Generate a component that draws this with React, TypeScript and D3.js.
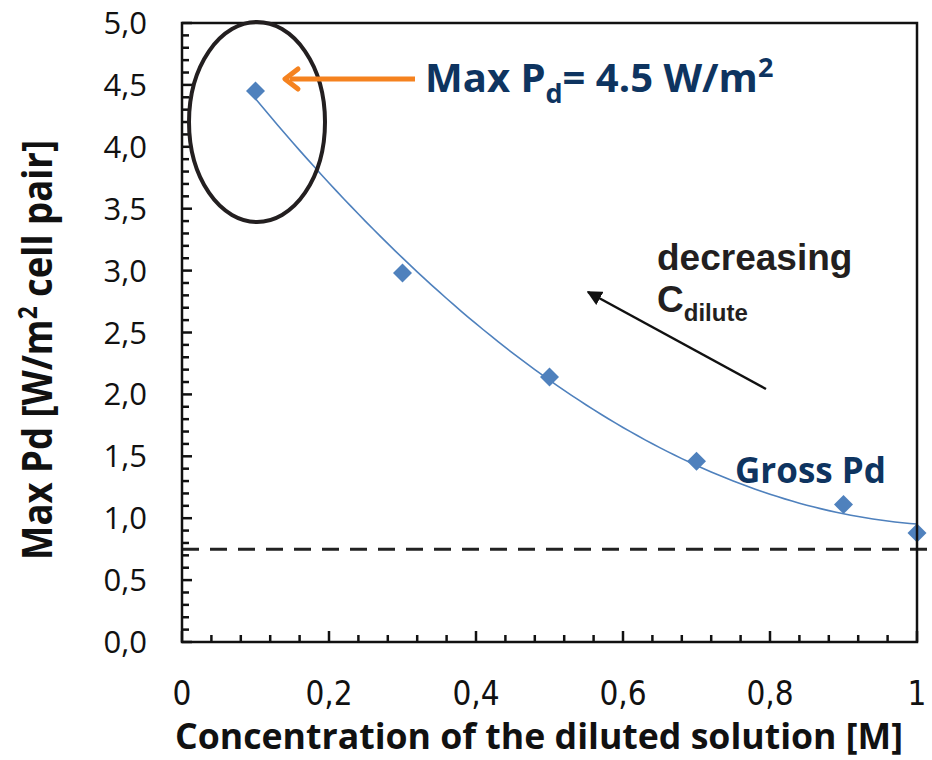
import React from 'react';
import * as d3 from 'd3';

const concentrations = [0.1, 0.3, 0.5, 0.7, 0.9, 1.0];
const grossPd = [4.45, 2.98, 2.14, 1.46, 1.11, 0.88];
const xTickValues = [0, 0.2, 0.4, 0.6, 0.8, 1];
const yTickValues = [0, 0.5, 1, 1.5, 2, 2.5, 3, 3.5, 4, 4.5, 5];
const referenceLevel = 0.75;

const W = 932;
const H = 760;
const margin = { top: 23, right: 15, bottom: 118, left: 182 };

const navy = '#0e3460';
const blue = '#4f81bd';

// 2nd order polynomial trendline (least squares), like the spreadsheet trendline
function quadFit(xs: number[], ys: number[]) {
  let s0 = 0, s1 = 0, s2 = 0, s3 = 0, s4 = 0, t0 = 0, t1 = 0, t2 = 0;
  xs.forEach((x, i) => {
    const y = ys[i];
    s0 += 1; s1 += x; s2 += x * x; s3 += x ** 3; s4 += x ** 4;
    t0 += y; t1 += x * y; t2 += x * x * y;
  });
  const m = [
    [s0, s1, s2, t0],
    [s1, s2, s3, t1],
    [s2, s3, s4, t2],
  ];
  for (let i = 0; i < 3; i++) {
    for (let k = i + 1; k < 3; k++) {
      const f = m[k][i] / m[i][i];
      for (let j = i; j < 4; j++) m[k][j] -= f * m[i][j];
    }
  }
  const c = [0, 0, 0];
  for (let i = 2; i >= 0; i--) {
    let s = m[i][3];
    for (let j = i + 1; j < 3; j++) s -= m[i][j] * c[j];
    c[i] = s / m[i][i];
  }
  return (x: number) => c[0] + c[1] * x + c[2] * x * x;
}

const App: React.FC = () => {
  const x = d3.scaleLinear().domain([0, 1]).range([margin.left, W - margin.right]);
  const y = d3.scaleLinear().domain([0, 5]).range([H - margin.bottom, margin.top]);
  const [x0, x1] = x.range();
  const [yb, yt] = y.range();

  const fit = quadFit(concentrations, grossPd);
  const curveX = d3.range(0.1, 1.0001, 0.01);
  const line = d3.line<number>().x(d => x(d)).y(d => y(fit(d))).curve(d3.curveMonotoneX);

  const xMinor = d3.range(0, 1.0001, 0.04);
  const yMinor = d3.range(0, 5.0001, 0.1);
  const fmt = (v: number, digits: number) => v.toFixed(digits).replace('.', ',');

  const diamond = d3.symbol().type(d3.symbolDiamond2).size(230)();

  return (
    <svg width={W} height={H} style={{ position: 'absolute', left: 0, top: 0 }}>
      <defs>
        <marker id="blackHead" viewBox="0 0 10 10" refX="9" refY="5" markerWidth="6" markerHeight="6" orient="auto">
          <path d="M0,0 L10,5 L0,10 z" fill="#111" />
        </marker>
      </defs>
      <rect width={W} height={H} fill="#fff" />

      {/* trendline */}
      <path d={line(curveX) || ''} fill="none" stroke={blue} strokeWidth={1.6} />

      {/* markers */}
      {concentrations.map((c, i) => (
        <path key={i} d={diamond || ''} transform={`translate(${x(c)},${y(grossPd[i])})`} fill={blue} />
      ))}

      {/* dashed reference line */}
      <line x1={x0} x2={W} y1={y(referenceLevel)} y2={y(referenceLevel)} stroke="#222" strokeWidth={3} strokeDasharray="17 11" />

      {/* frame */}
      <rect x={x0} y={yt} width={x1 - x0} height={yb - yt} fill="none" stroke="#111" strokeWidth={2.5} />

      {/* y ticks */}
      {yMinor.map((v, i) => (
        <line key={i} x1={x0} x2={x0 + (i % 5 === 0 ? 10 : 7)} y1={y(v)} y2={y(v)} stroke="#111" strokeWidth={2.5} />
      ))}
      {/* x ticks */}
      {xMinor.map((v, i) => (
        <line key={i} x1={x(v)} x2={x(v)} y1={yb} y2={yb - (i % 5 === 0 ? 11 : 7)} stroke="#111" strokeWidth={2.5} />
      ))}

      {yTickValues.map(v => (
        <text key={v} x={147} y={y(v) + 11} textAnchor="end" fontFamily="'Open Sans', sans-serif" fontSize={31} fill="#111">
          {fmt(v, 1)}
        </text>
      ))}
      {xTickValues.map(v => (
        <text key={v} x={x(v)} y={705} textAnchor="middle" fontFamily="'Liberation Sans Narrow', 'DejaVu Sans Condensed', sans-serif" fontSize={33} fill="#111">
          {v === 0 || v === 1 ? String(v) : fmt(v, 1)}
        </text>
      ))}

      {/* axis titles */}
      <text x={539} y={749} textAnchor="middle" fontFamily="'Open Sans', sans-serif" fontWeight="bold" fontSize={35} fill="#111" textLength={728} lengthAdjust="spacingAndGlyphs">
        Concentration of the diluted solution [M]
      </text>
      <text transform="translate(52,350) rotate(-90)" textAnchor="middle" fontFamily="'Open Sans', sans-serif" fontWeight="bold" fontSize={42} fill="#111" textLength={420} lengthAdjust="spacingAndGlyphs">
        Max Pd [W/m<tspan dy={-15} fontSize={26}>2</tspan><tspan dy={15}> cell pair]</tspan>
      </text>

      {/* annotations */}
      <ellipse cx={257} cy={122} rx={68} ry={100} fill="none" stroke="#231f20" strokeWidth={4} />
      <line x1={415} x2={290} y1={79} y2={79} stroke="#f5821f" strokeWidth={5} />
      <path d="M298,69 L285,79 L298,89" fill="none" stroke="#f5821f" strokeWidth={5} strokeLinecap="round" strokeLinejoin="round" />

      <text x={425} y={92} fontFamily="'Open Sans', sans-serif" fontWeight="bold" fontSize={40} fill={navy}>
        Max P<tspan dy={11} fontSize={27}>d</tspan><tspan dy={-11}>= 4.5 W/m</tspan><tspan dy={-15} fontSize={27}>2</tspan>
      </text>

      <text x={657} y={270} fontFamily="'Liberation Sans', Arial, sans-serif" fontWeight="bold" fontSize={37} fill="#231f20">
        decreasing
      </text>
      <text x={657} y={312} fontFamily="'Liberation Sans', Arial, sans-serif" fontWeight="bold" fontSize={37} fill="#231f20">
        C<tspan dy={9} fontSize={24}>dilute</tspan>
      </text>
      <line x1={766} y1={389} x2={588} y2={292} stroke="#111" strokeWidth={2.5} markerEnd="url(#blackHead)" />

      <text x={735} y={483} fontFamily="'Open Sans', sans-serif" fontWeight="bold" fontSize={35} fill={navy}>
        Gross Pd
      </text>
    </svg>
  );
};

export default App;
